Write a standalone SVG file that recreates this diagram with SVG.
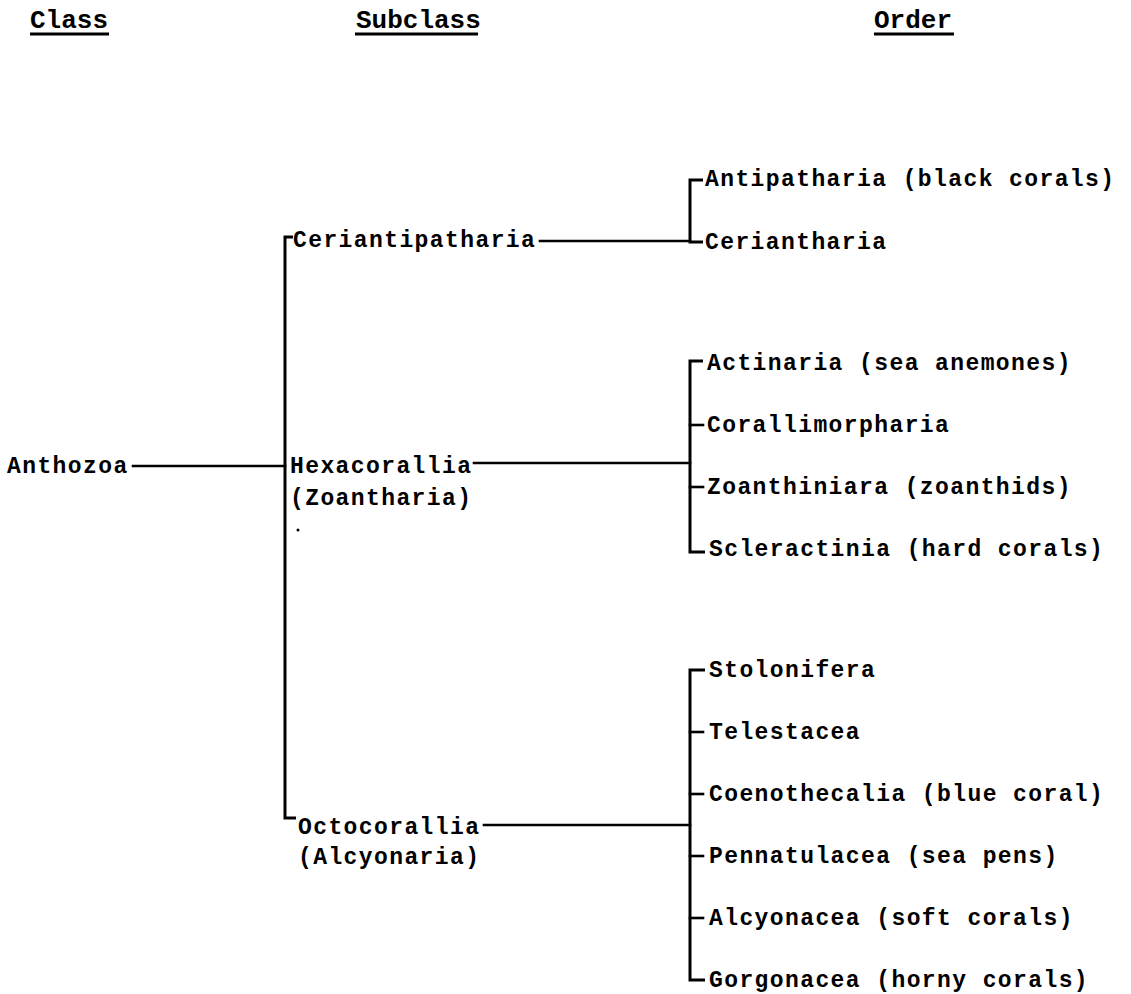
<svg xmlns="http://www.w3.org/2000/svg" width="1131" height="994" viewBox="0 0 1131 994">
<style>
text{font-family:"Liberation Mono","DejaVu Sans Mono",monospace;font-size:23px;font-weight:bold;letter-spacing:1.4px;fill:#000}
text.h{font-size:26px;letter-spacing:0}
.c{stroke:#000;stroke-width:2.6;fill:none;stroke-linecap:square}
.v{stroke:#000;stroke-width:3;fill:none}
.u{stroke:#000;stroke-width:3}
</style>
<rect width="1131" height="994" fill="#fff"/>
<g id="headers">
<text class="h" x="30" y="28">Class</text>
<line class="u" x1="30" y1="34" x2="109" y2="34"/>
<text class="h" x="356" y="28">Subclass</text>
<line class="u" x1="355" y1="34" x2="478" y2="34"/>
<text class="h" x="874" y="28">Order</text>
<line class="u" x1="874" y1="34" x2="954" y2="34"/>
</g>
<g id="connectors">
<line class="c" x1="133" y1="466" x2="285" y2="466"/>
<path class="v" d="M293,237 H285 V818 H296"/>
<line class="c" x1="540" y1="241" x2="690" y2="241"/>
<path class="v" d="M703,180 H690 V242 H703"/>
<line class="c" x1="474" y1="463" x2="690" y2="463"/>
<path class="v" d="M703,361 H690 V552 H705"/>
<line class="c" x1="690" y1="425" x2="703" y2="425"/>
<line class="c" x1="690" y1="487" x2="703" y2="487"/>
<line class="c" x1="484" y1="825" x2="690" y2="825"/>
<path class="v" d="M705,670 H690 V980 H705"/>
<line class="c" x1="690" y1="732" x2="703" y2="732"/>
<line class="c" x1="690" y1="794" x2="703" y2="794"/>
<line class="c" x1="690" y1="856" x2="703" y2="856"/>
<line class="c" x1="690" y1="918" x2="703" y2="918"/>
<circle cx="298" cy="530" r="1.5" fill="#000"/>
</g>
<g id="anthozoa"><text x="7" y="473">Anthozoa</text></g>
<g id="ceriantipatharia"><text x="293" y="247">Ceriantipatharia</text></g>
<g id="hexacorallia"><text x="290" y="473">Hexacorallia</text><text x="290" y="505">(Zoantharia)</text></g>
<g id="octocorallia"><text x="298" y="834">Octocorallia</text><text x="298" y="864">(Alcyonaria)</text></g>
<g id="antipatharia"><text x="705" y="186">Antipatharia (black corals)</text></g>
<g id="ceriantharia"><text x="705" y="249">Ceriantharia</text></g>
<g id="actinaria"><text x="707" y="370">Actinaria (sea anemones)</text></g>
<g id="corallimorpharia"><text x="707" y="432">Corallimorpharia</text></g>
<g id="zoanthiniara"><text x="707" y="494">Zoanthiniara (zoanthids)</text></g>
<g id="scleractinia"><text x="709" y="556">Scleractinia (hard corals)</text></g>
<g id="stolonifera"><text x="709" y="677">Stolonifera</text></g>
<g id="telestacea"><text x="709" y="739">Telestacea</text></g>
<g id="coenothecalia"><text x="709" y="801">Coenothecalia (blue coral)</text></g>
<g id="pennatulacea"><text x="709" y="863">Pennatulacea (sea pens)</text></g>
<g id="alcyonacea"><text x="709" y="925">Alcyonacea (soft corals)</text></g>
<g id="gorgonacea"><text x="709" y="987">Gorgonacea (horny corals)</text></g>
</svg>
